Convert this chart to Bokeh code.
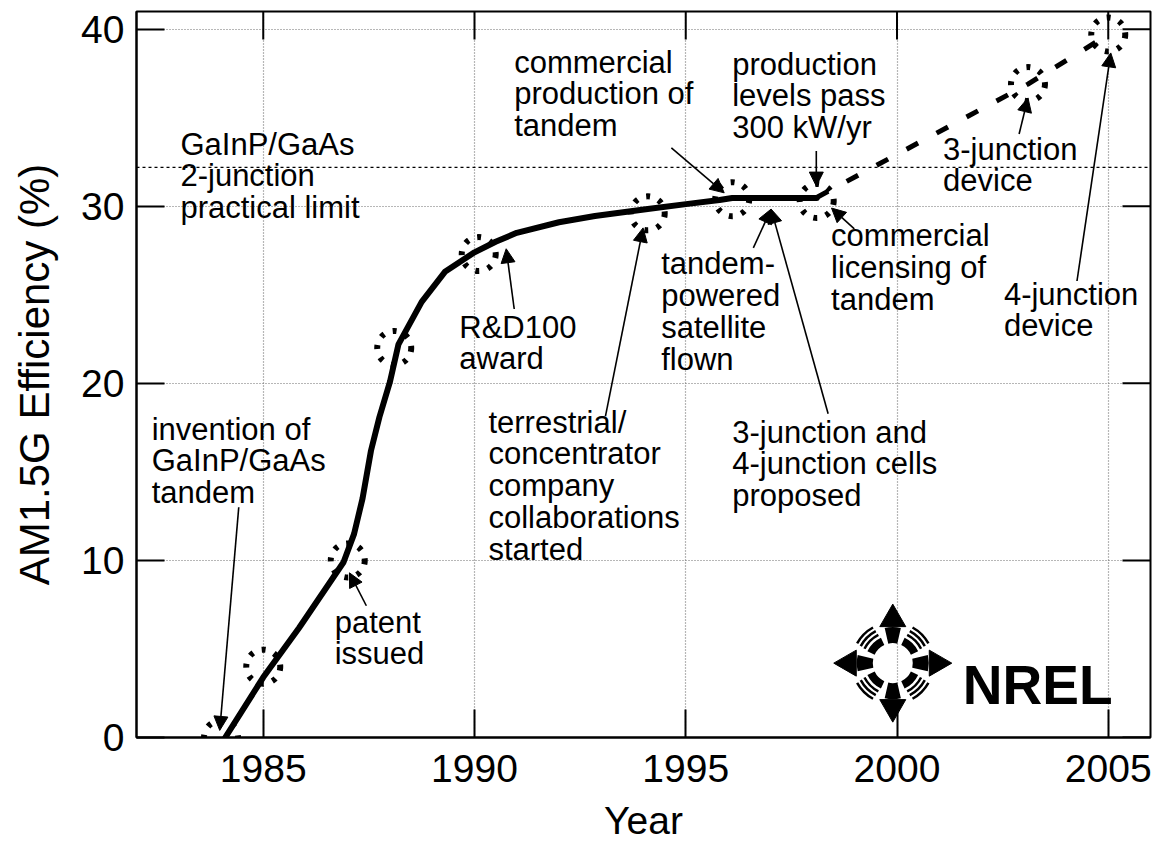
import math
from bokeh.plotting import figure
from bokeh.models import (FixedTicker, Span, Arrow, NormalHead,
                          Range1d, ColumnDataSource)
from bokeh.core.properties import value
from bokeh.embed import file_html
from bokeh.resources import INLINE

# ---------------- data ----------------
year_ticks = [1985, 1990, 1995, 2000, 2005]
eff_ticks = [0, 10, 20, 30, 40]

# measured record-efficiency curve (solid line)
curve_year = [1984.1, 1985.0, 1985.85, 1986.9, 1987.15, 1987.35, 1987.55, 1987.75,
              1988.0, 1988.2, 1988.75, 1989.3, 1990.0, 1990.5, 1991.0, 1992.0,
              1992.85, 1994.1, 1995.1, 1995.8, 1996.1, 1998.1]
curve_eff = [0.0, 3.4, 6.2, 9.9, 11.5, 13.5, 16.2, 18.1,
             20.1, 22.2, 24.6, 26.3, 27.4, 28.0, 28.5, 29.1,
             29.45, 29.85, 30.15, 30.35, 30.47, 30.47]

# milestone points (sun symbols)
point_year = [1984.0, 1985.0, 1987.0, 1988.1, 1990.1, 1994.1, 1996.1, 1998.1, 2003.1, 2005.0]
point_eff = [0.0, 4.0, 10.0, 22.0, 27.3, 29.6, 30.4, 30.3, 36.9, 39.7]

# projected multi-junction path (dashed)
proj_year = [1998.1, 2003.1, 2005.0]
proj_eff = [30.5, 36.9, 39.7]

practical_limit = 32.2

# annotations
note_text = [
    "GaInP/GaAs\n2-junction\npractical limit",
    "invention of\nGaInP/GaAs\ntandem",
    "patent\nissued",
    "R&D100\naward",
    "terrestrial/\nconcentrator\ncompany\ncollaborations\nstarted",
    "commercial\nproduction of\ntandem",
    "production\nlevels pass\n300 kW/yr",
    "3-junction\ndevice",
    "tandem-\npowered\nsatellite\nflown",
    "3-junction and\n4-junction cells\nproposed",
    "commercial\nlicensing of\ntandem",
    "4-junction\ndevice",
]
note_x = [1983.04, 1982.36, 1986.69, 1989.64, 1990.33, 1990.94, 1996.10, 2001.09,
          1994.42, 1996.10, 1998.44, 2002.53]
note_y = [34.50, 18.41, 7.51, 24.17, 18.80, 39.13, 39.02, 34.22,
          27.75, 18.24, 29.31, 26.03]

arrow_x0 = [1984.42, 1987.44, 1990.94, 1993.10, 1994.66, 1998.09, 2002.89, 1996.60, 1998.37, 1998.99, 2004.26]
arrow_y0 = [13.0, 7.44, 24.2, 18.15, 33.30, 33.12, 34.08, 27.65, 18.28, 28.72, 25.78]
arrow_x1 = [1983.97, 1987.04, 1990.75, 1993.99, 1995.91, 1998.09, 2003.10, 1997.02, 1997.02, 1998.45, 2005.06]
arrow_y1 = [0.4, 9.30, 27.6, 28.78, 30.76, 31.14, 36.12, 29.84, 29.84, 29.90, 38.66]

# ---------------- figure ----------------
W, H = 1161, 845
BL, BR, BT, BB = 136, 11, 11, 108
X0, X1, Y0, Y1 = 1982, 2006, 0, 41
FONT = "Liberation Sans"

p = figure(width=W, height=H, x_range=Range1d(X0, X1), y_range=Range1d(Y0, Y1),
           output_backend="svg", toolbar_location=None,
           min_border_left=BL, min_border_right=BR, min_border_top=BT, min_border_bottom=BB,
           x_axis_label="Year", y_axis_label="AM1.5G Efficiency (%)")
p.background_fill_color = "white"
p.border_fill_color = "white"
p.outline_line_color = "black"
p.outline_line_width = 2

for ax, ticks in ((p.xaxis[0], year_ticks), (p.yaxis[0], eff_ticks)):
    ax.ticker = FixedTicker(ticks=ticks)
    ax.major_tick_in = 28
    ax.major_tick_out = 0
    ax.minor_tick_line_color = None
    ax.major_tick_line_color = "black"
    ax.major_tick_line_width = 2
    ax.axis_line_color = "black"
    ax.axis_line_width = 2
    ax.major_label_text_font = FONT
    ax.major_label_text_color = "black"
    ax.major_label_text_font_size = "39px"
    ax.axis_label_text_font = FONT
    ax.axis_label_text_font_style = "normal"
    ax.axis_label_text_color = "black"
    ax.axis_label_text_font_size = "39px"
p.xaxis[0].major_label_standoff = 17
p.xaxis[0].axis_label_standoff = 14
p.yaxis[0].major_label_standoff = 12
p.yaxis[0].axis_label_standoff = 20
p.yaxis[0].axis_label_text_font_size = "42px"

# inward ticks on the top and right frame edges
p.scatter(x=year_ticks, y=[Y1] * len(year_ticks), marker="dash", size=56, angle=math.pi / 2,
          line_color="black", line_width=2)
p.scatter(x=[X1] * len(eff_ticks), y=eff_ticks, marker="dash", size=56,
          line_color="black", line_width=2)

p.xgrid.ticker = FixedTicker(ticks=year_ticks)
p.ygrid.ticker = FixedTicker(ticks=eff_ticks)
for g in (p.xgrid, p.ygrid):
    g.grid_line_color = "#6e6e6e"
    g.grid_line_dash = "1 2"
    g.grid_line_width = 1.2

p.add_layout(Span(location=practical_limit, dimension="width", line_color="black",
                  line_dash="3 3", line_width=1.3))

# curves
p.line(curve_year, curve_eff, line_width=6, line_color="black",
       line_join="round", line_cap="round")
p.line(proj_year, proj_eff, line_width=5, line_color="black", line_dash="13 21")
p.scatter(point_year, point_eff, marker="circle", size=34, fill_color=None,
          line_color="black", line_width=6, line_dash=value("4 9"))

# annotation arrows
arrow_src = ColumnDataSource(dict(x0=arrow_x0, y0=arrow_y0, x1=arrow_x1, y1=arrow_y1))
p.add_layout(Arrow(source=arrow_src, x_start="x0", y_start="y0", x_end="x1", y_end="y1",
                   line_color="black", line_width=1.6,
                   end=NormalHead(size=14, fill_color="black", line_color="black", line_width=1)))

# annotation texts
p.text(x=note_x, y=note_y, text=note_text, text_font=value(FONT), text_font_size="31px",
       text_baseline="top", text_align="left", text_line_height=0.91, text_color="black")

# ---------------- NREL logo ----------------
fw = W - BL - BR
fh = H - BT - BB
sx = (X1 - X0) / fw   # data units per px
sy = (Y1 - Y0) / fh
lx, ly = 1999.9, 4.2

wedge_c, wedge_in, wedge_out, wedge_half = [], [], [], []
for a in (0, 90, 180, 270):
    wedge_c.append(a); wedge_in.append(20); wedge_out.append(36); wedge_half.append(13)
for a in (45, 135, 225, 315):
    for r_in, r_out, h in ((20, 28, 20), (30.5, 33, 18), (35, 37.5, 17), (39.5, 42, 16)):
        wedge_c.append(a); wedge_in.append(r_in); wedge_out.append(r_out); wedge_half.append(h)
p.annular_wedge(x=[lx] * len(wedge_c), y=[ly] * len(wedge_c),
                inner_radius=wedge_in, outer_radius=wedge_out,
                start_angle=[math.radians(c - h) for c, h in zip(wedge_c, wedge_half)],
                end_angle=[math.radians(c + h) for c, h in zip(wedge_c, wedge_half)],
                inner_radius_units="screen", outer_radius_units="screen",
                fill_color="black", line_color=None)
head_ang = [0, 90, 180, 270]
p.scatter(x=[lx + 44 * math.cos(math.radians(a)) * sx for a in head_ang],
          y=[ly + 44 * math.sin(math.radians(a)) * sy for a in head_ang],
          angle=[math.radians(a - 90) for a in head_ang],
          marker="triangle", size=26, fill_color="black", line_color="black")
p.text(x=[lx + 70 * sx], y=[ly - 22 * sy], text=["NREL"],
       text_font=value(FONT), text_font_style="bold",
       text_font_size="55px", text_baseline="alphabetic", text_align="left",
       text_color="black")

open("out.html", "w").write(file_html(p, INLINE))
